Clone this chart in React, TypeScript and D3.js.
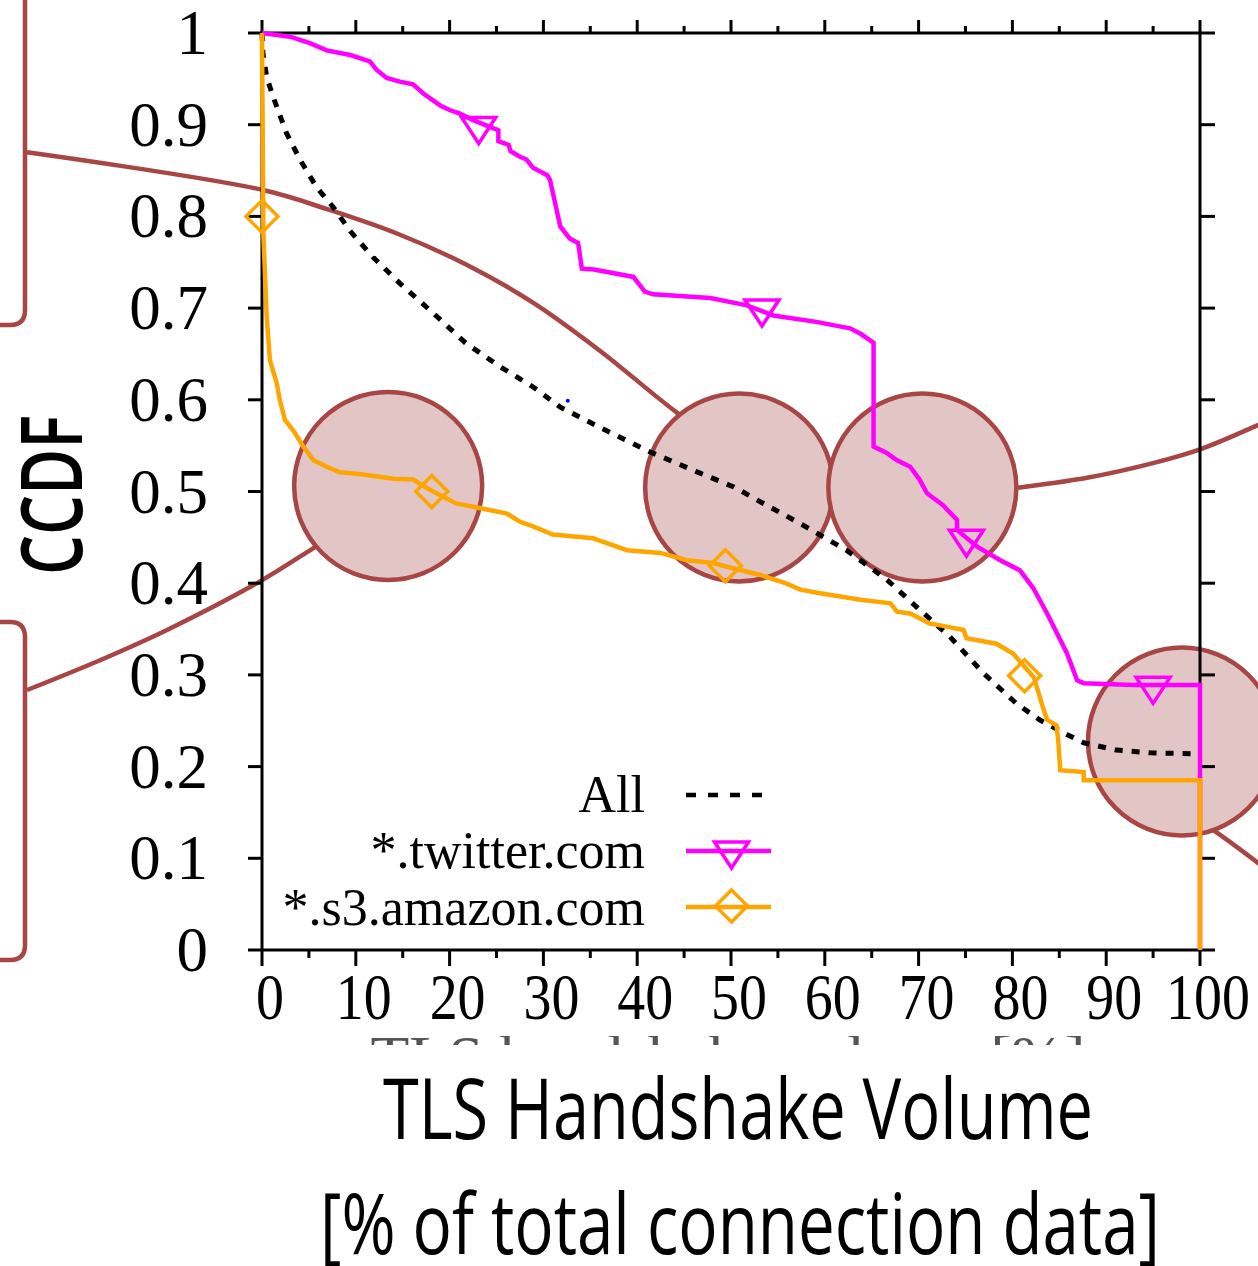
import React from "react";
import * as d3 from "d3";

// page size of the slide
const W = 1258;
const H = 1266;

// axis ticks
const xTicks = [0, 10, 20, 30, 40, 50, 60, 70, 80, 90, 100];
const xMinorTicks = [5, 15, 25, 35, 45, 55, 65, 75, 85, 95];
const yTicks = [0, 0.1, 0.2, 0.3, 0.4, 0.5, 0.6, 0.7, 0.8, 0.9, 1];
const yTickLabels = ["0", "0.1", "0.2", "0.3", "0.4", "0.5", "0.6", "0.7", "0.8", "0.9", "1"];

// CCDF series: [handshake volume %, ccdf]
const allSeries: [number, number][] = [
  [0, 1.0], [0.1, 0.978], [0.5, 0.952], [1.2, 0.93], [2.6, 0.891], [4.1, 0.861], [5.8, 0.832],
  [7.6, 0.81], [9.4, 0.784], [11.8, 0.756], [14.7, 0.727], [18.2, 0.695], [21.7, 0.662],
  [25.4, 0.636], [28.9, 0.614], [31.8, 0.592], [36.0, 0.57], [41.4, 0.543], [46.7, 0.52],
  [50.3, 0.505], [53.8, 0.485], [57.4, 0.465], [62.3, 0.436], [66.6, 0.404], [69.8, 0.374],
  [73.3, 0.342], [76.9, 0.302], [80.4, 0.269], [82.9, 0.251], [85.8, 0.235], [87.6, 0.226],
  [91.1, 0.218], [94.7, 0.215], [99.6, 0.214],
];

const twitterSeries: [number, number][] = [
  [0, 1.0], [3.0, 0.996], [5.1, 0.989], [6.9, 0.981], [9.4, 0.976], [11.5, 0.969], [12.2, 0.96],
  [13.3, 0.951], [14.7, 0.947], [16.1, 0.944], [17.2, 0.934], [19.0, 0.921], [20.0, 0.916],
  [21.1, 0.912], [22.5, 0.905], [24.7, 0.896], [25.2, 0.894], [25.2, 0.882], [26.3, 0.878],
  [26.5, 0.871], [27.5, 0.865], [28.2, 0.862], [28.9, 0.853], [30.4, 0.845], [30.7, 0.84],
  [31.8, 0.789], [32.8, 0.776], [33.7, 0.771], [34.1, 0.743], [35.4, 0.742], [39.6, 0.734],
  [40.8, 0.718], [41.7, 0.715], [47.8, 0.711], [51.7, 0.703], [54.5, 0.692], [59.1, 0.685],
  [60.6, 0.682], [62.7, 0.678], [63.8, 0.672], [64.8, 0.665], [65.2, 0.662], [65.2, 0.549],
  [66.6, 0.542], [67.7, 0.534], [69.1, 0.527], [70.1, 0.513], [70.9, 0.498], [72.6, 0.485],
  [74.1, 0.469], [74.1, 0.458], [76.2, 0.44], [78.7, 0.425], [80.8, 0.414], [82.2, 0.395],
  [83.7, 0.367], [85.8, 0.324], [86.9, 0.294], [87.6, 0.291], [92.9, 0.289], [100, 0.289],
  [100, 0],
];

const s3Series: [number, number][] = [
  [0, 1.0], [0.15, 0.78], [0.5, 0.69], [0.85, 0.643], [1.57, 0.618], [1.9, 0.6], [2.45, 0.578],
  [3.3, 0.567], [4.4, 0.549], [5.5, 0.534], [6.9, 0.527], [8.3, 0.521], [10.4, 0.519],
  [14.0, 0.514], [16.1, 0.513], [17.9, 0.502], [20.7, 0.487], [23.2, 0.482], [26.1, 0.476],
  [27.5, 0.467], [28.9, 0.462], [31.0, 0.453], [35.3, 0.449], [36.7, 0.444], [38.9, 0.436],
  [42.5, 0.433], [45.3, 0.425], [48.1, 0.422], [50.3, 0.416], [53.1, 0.409], [55.8, 0.4],
  [57.4, 0.393], [59.5, 0.389], [63.8, 0.382], [67.0, 0.378], [67.7, 0.369], [69.1, 0.367],
  [71.2, 0.356], [72.3, 0.354], [74.8, 0.349], [75.1, 0.34], [78.3, 0.334], [80.1, 0.323],
  [82.3, 0.297], [83.3, 0.263], [83.7, 0.251], [84.7, 0.245], [84.9, 0.227], [85.1, 0.196],
  [87.6, 0.194], [87.6, 0.185], [100, 0.185], [100, 0],
];

const twitterMarks: [number, number][] = [[23.1, 0.898], [53.3, 0.699], [75.1, 0.448], [95.0, 0.2875]];
const s3Marks: [number, number][] = [[0, 0.8], [18.1, 0.5], [49.4, 0.419], [81.3, 0.299]];

const legendLabels = ["All", "*.twitter.com", "*.s3.amazon.com"];
const strayDots: [number, number][] = [[32.6, 0.599]];

// slide overlay (spotlights and the path joining them), in data units
const spotlights: [number, number][] = [[13.45, 0.506], [50.87, 0.5044], [70.4, 0.5044], [98.08, 0.2274]];
const upperArc: [number, number][] = [
  [-25.05, 0.87], [0, 0.829], [7.2, 0.807], [14.71, 0.78], [21.86, 0.747], [28.89, 0.706],
  [36.09, 0.653], [44.24, 0.586], [53.09, 0.523], [62.69, 0.494], [72.28, 0.494], [80.49, 0.504],
  [87.95, 0.515], [94.99, 0.531], [100, 0.546], [106.18, 0.5725], [109.6, 0.589],
];
const lowerLeftArc: [number, number][] = [
  [-25.05, 0.2835], [-17.27, 0.316], [-10.13, 0.349], [-0.21, 0.402], [5.44, 0.438], [8.85, 0.46],
];
const lowerRightArc: [number, number][] = [[98.93, 0.147], [101.8, 0.128], [106.18, 0.095], [109.6, 0.0676]];

const BROWN = "#a84545";
const SERIF = "'Liberation Serif', 'Times New Roman', serif";
const SANS = "'Open Sans', 'Noto Sans', sans-serif";

export default function App() {
  const x = d3.scaleLinear().domain([0, 100]).range([262, 1200]);
  const y = d3.scaleLinear().domain([0, 1]).range([950, 33]);

  const line = d3.line<[number, number]>().x((d) => x(d[0])).y((d) => y(d[1]));
  const smooth = d3
    .line<[number, number]>()
    .x((d) => x(d[0]))
    .y((d) => y(d[1]))
    .curve(d3.curveCatmullRom);

  const tri = (cx: number, cy: number) =>
    `M${cx - 17},${cy - 9}L${cx + 17},${cy - 9}L${cx},${cy + 17}Z`;
  const dia = (cx: number, cy: number) =>
    `M${cx},${cy - 16}L${cx + 16},${cy}L${cx},${cy + 16}L${cx - 16},${cy}Z`;

  const legendY = [795, 851, 907];
  const legendBase = [812, 868, 925];

  return (
    <svg
      width={W}
      height={H}
      style={{ position: "absolute", left: 0, top: 0, background: "#fff" }}
    >
      <defs>
        <clipPath id="xlabClip">
          <rect x={0} y={1036} width={W} height={9} />
        </clipPath>
      </defs>

      {/* overlay path and brackets */}
      <g fill="none" stroke={BROWN} strokeWidth={4.5}>
        <path d={smooth(upperArc) || ""} />
        <path d={smooth(lowerLeftArc) || ""} />
        <path d={smooth(lowerRightArc) || ""} />
        <path d="M-20,325L10,325Q25,325 25,310L25,-20" />
        <path d="M-20,622L10,622Q25,622 25,637L25,945Q25,960 10,960L-20,960" />
      </g>
      <g fill="#e2c5c5" stroke={BROWN} strokeWidth={4.5}>
        {spotlights.map((d, i) => (
          <circle key={i} cx={x(d[0])} cy={y(d[1])} r={94} />
        ))}
      </g>

      {/* frame and ticks */}
      <g stroke="#000" strokeWidth={3} fill="none">
        <rect x={x(0)} y={y(1)} width={x(100) - x(0)} height={y(0) - y(1)} />
        {yTicks.map((t) => (
          <g key={"y" + t}>
            <line x1={x(0) - 14} x2={x(0)} y1={y(t)} y2={y(t)} />
            <line x1={x(100)} x2={x(100) + 15} y1={y(t)} y2={y(t)} />
          </g>
        ))}
        {xTicks.map((t) => (
          <g key={"x" + t}>
            <line x1={x(t)} x2={x(t)} y1={y(0)} y2={y(0) + 16} />
            <line x1={x(t)} x2={x(t)} y1={y(1)} y2={y(1) - 13} />
          </g>
        ))}
        {xMinorTicks.map((t) => (
          <g key={"m" + t}>
            <line x1={x(t)} x2={x(t)} y1={y(0)} y2={y(0) + 8} />
            <line x1={x(t)} x2={x(t)} y1={y(1)} y2={y(1) - 7} />
          </g>
        ))}
      </g>

      <g fontFamily={SERIF} fill="#000">
        {yTicks.map((t, i) => (
          <text key={t} x={208} y={y(t) + 21} textAnchor="end" fontSize={63}>
            {yTickLabels[i]}
          </text>
        ))}
        {xTicks.map((t) => (
          <text
            key={t}
            transform={`translate(${x(t) + 8},1019) scale(0.86,1)`}
            textAnchor="middle"
            fontSize={65}
          >
            {t}
          </text>
        ))}
        <text
          x={728}
          y={1078}
          fontSize={62}
          fill="#555"
          textAnchor="middle"
          clipPath="url(#xlabClip)"
          textLength={715}
          lengthAdjust="spacingAndGlyphs"
        >
          TLS handshake volume [%]
        </text>
      </g>

      {/* data */}
      <path
        d={line(allSeries) || ""}
        fill="none"
        stroke="#000"
        strokeWidth={5}
        strokeDasharray="8,9"
      />
      <path d={line(twitterSeries) || ""} fill="none" stroke="#ff00ff" strokeWidth={4.5} />
      {twitterMarks.map((d, i) => (
        <path key={i} d={tri(x(d[0]), y(d[1]))} fill="none" stroke="#ff00ff" strokeWidth={3.5} />
      ))}
      <path d={line(s3Series) || ""} fill="none" stroke="#ffa500" strokeWidth={4.5} />
      {s3Marks.map((d, i) => (
        <path key={i} d={dia(x(d[0]), y(d[1]))} fill="none" stroke="#ffa500" strokeWidth={3.5} />
      ))}
      {strayDots.map((d, i) => (
        <circle key={i} cx={x(d[0])} cy={y(d[1])} r={2} fill="#0000ff" />
      ))}

      {/* legend */}
      <g fontFamily={SERIF} fontSize={52} fill="#000" textAnchor="end">
        {legendLabels.map((l, i) => (
          <text key={l} x={645} y={legendBase[i]}>
            {l}
          </text>
        ))}
      </g>
      <line x1={686} x2={764} y1={legendY[0]} y2={legendY[0]} stroke="#000" strokeWidth={4.5} strokeDasharray="10,12" />
      <line x1={686} x2={771} y1={legendY[1]} y2={legendY[1]} stroke="#ff00ff" strokeWidth={4.5} />
      <path d={tri(731.5, legendY[1])} fill="none" stroke="#ff00ff" strokeWidth={3.5} />
      <line x1={686} x2={771} y1={legendY[2]} y2={legendY[2]} stroke="#ffa500" strokeWidth={4.5} />
      <path d={dia(731.5, legendY[2] - 1)} fill="none" stroke="#ffa500" strokeWidth={3.5} />

      {/* slide axis titles */}
      <g fontFamily={SANS} fontWeight={500} fontSize={85} fill="#000">
        <text x={738} y={1139} textAnchor="middle" textLength={710} lengthAdjust="spacingAndGlyphs">
          TLS Handshake Volume
        </text>
        <text x={740} y={1254} textAnchor="middle" textLength={840} lengthAdjust="spacingAndGlyphs">
          [% of total connection data]
        </text>
        <text
          transform="translate(82,495) rotate(-90)"
          textAnchor="middle"
          textLength={160}
          lengthAdjust="spacingAndGlyphs"
          fontWeight={600}
        >
          CCDF
        </text>
      </g>
    </svg>
  );
}
